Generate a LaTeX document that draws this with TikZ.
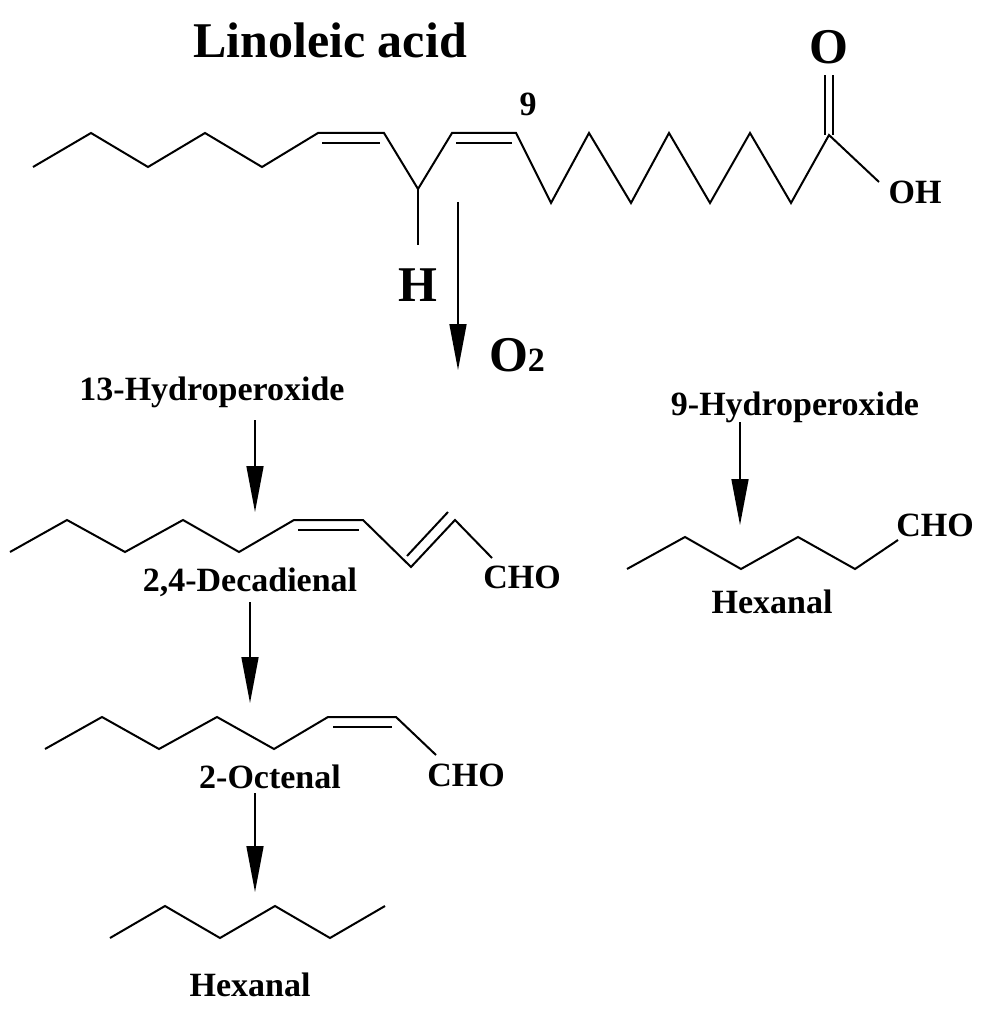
\documentclass[tikz,border=0pt]{standalone}
\usepackage{fontspec}
\setmainfont{Liberation Serif}
\usetikzlibrary{arrows.meta, positioning}

\tikzset{
  bond/.style={line width=2pt, line join=miter},
  react/.style={line width=1.6pt, -{Triangle[length=46pt, width=17pt]}},
  lbl/.style={font=\fontsize{34}{36}\selectfont\bfseries, inner sep=0pt},
  big/.style={font=\fontsize{50}{54}\selectfont\bfseries, inner sep=0pt}
}

\begin{document}
\begin{tikzpicture}[x=1pt, y=-1pt]
    \useasboundingbox (0,0) rectangle (993,1024);

    % Title
    \node[big] (title) at (330,40) {Linoleic acid};

    % Linoleic acid chain
    \draw[bond] (33,167) -- (91,133) -- (148,167) -- (205,133) -- (262,167)
        -- (318,133) -- (384,133) -- (418,189) -- (452,133) -- (516,133)
        -- (551,203) -- (589,133) -- (631,203) -- (669,133) -- (710,203)
        -- (750,133) -- (791,203) -- (829,135) -- (879,182);
    \draw[bond] (322,143) -- (380,143);
    \draw[bond] (456,143) -- (512,143);
    \draw[bond] (825,135) -- (825,75);
    \draw[bond] (833,135) -- (833,75);
    \draw[bond] (418,189) -- (418,245);
    \node[lbl] (num9) at (528,104) {9};
    \node[big] (oxy) at (829,47) {O};
    \node[lbl] (oh) at (915,192) {OH};
    \node[big] (hyd) at (418,285) {H};
    \node[big] (otwo) at (517,355) {O{\fontsize{34}{36}\selectfont 2}};

    % Oxygen step
    \coordinate (o2top) at (458,202);
    \coordinate (o2end) at (458,370);
    \draw[react] (o2top) -- (o2end);

    % 13-Hydroperoxide branch
    \node[lbl] (hp13) at (212,392) {13-Hydroperoxide};
    \coordinate (decatop) at (255,420);
    \coordinate (deca) at (255,512);
    \draw[react] (decatop) -- (deca);

    \draw[bond] (10,552) -- (67,520) -- (125,552) -- (183,520) -- (239,552)
        -- (294,520) -- (363,520) -- (411,567) -- (455,520) -- (492,558);
    \draw[bond] (298,530) -- (359,530);
    \draw[bond] (407,556) -- (448,512);
    \node[lbl] (cho1) at (522,577) {CHO};
    \node[lbl] (decalbl) at (250,582) {2,4-Decadienal};

    \coordinate (octetop) at (250,602);
    \coordinate (octe) at (250,703);
    \draw[react] (octetop) -- (octe);

    \draw[bond] (45,749) -- (102,717) -- (159,749) -- (217,717) -- (274,749)
        -- (328,717) -- (396,717) -- (436,755);
    \draw[bond] (333,727) -- (392,727);
    \node[lbl] (cho2) at (466,775) {CHO};
    \node[lbl] (octlbl) at (270,777) {2-Octenal};

    \coordinate (hexatop) at (255,793);
    \coordinate (hexa) at (255,892);
    \draw[react] (hexatop) -- (hexa);

    \draw[bond] (110,938) -- (165,906) -- (220,938) -- (275,906) -- (330,938)
        -- (385,906);
    \node[lbl] (hexlbl1) at (250,985) {Hexanal};

    % 9-Hydroperoxide branch
    \node[lbl] (hp9) at (795,407) {9-Hydroperoxide};
    \coordinate (hex9top) at (740,422);
    \coordinate (hex9) at (740,525);
    \draw[react] (hex9top) -- (hex9);

    \draw[bond] (627,569) -- (685,537) -- (741,569) -- (798,537) -- (855,569)
        -- (898,540);
    \node[lbl] (cho3) at (935,525) {CHO};
    \node[lbl] (hexlbl2) at (772,602) {Hexanal};
\end{tikzpicture}
\end{document}
